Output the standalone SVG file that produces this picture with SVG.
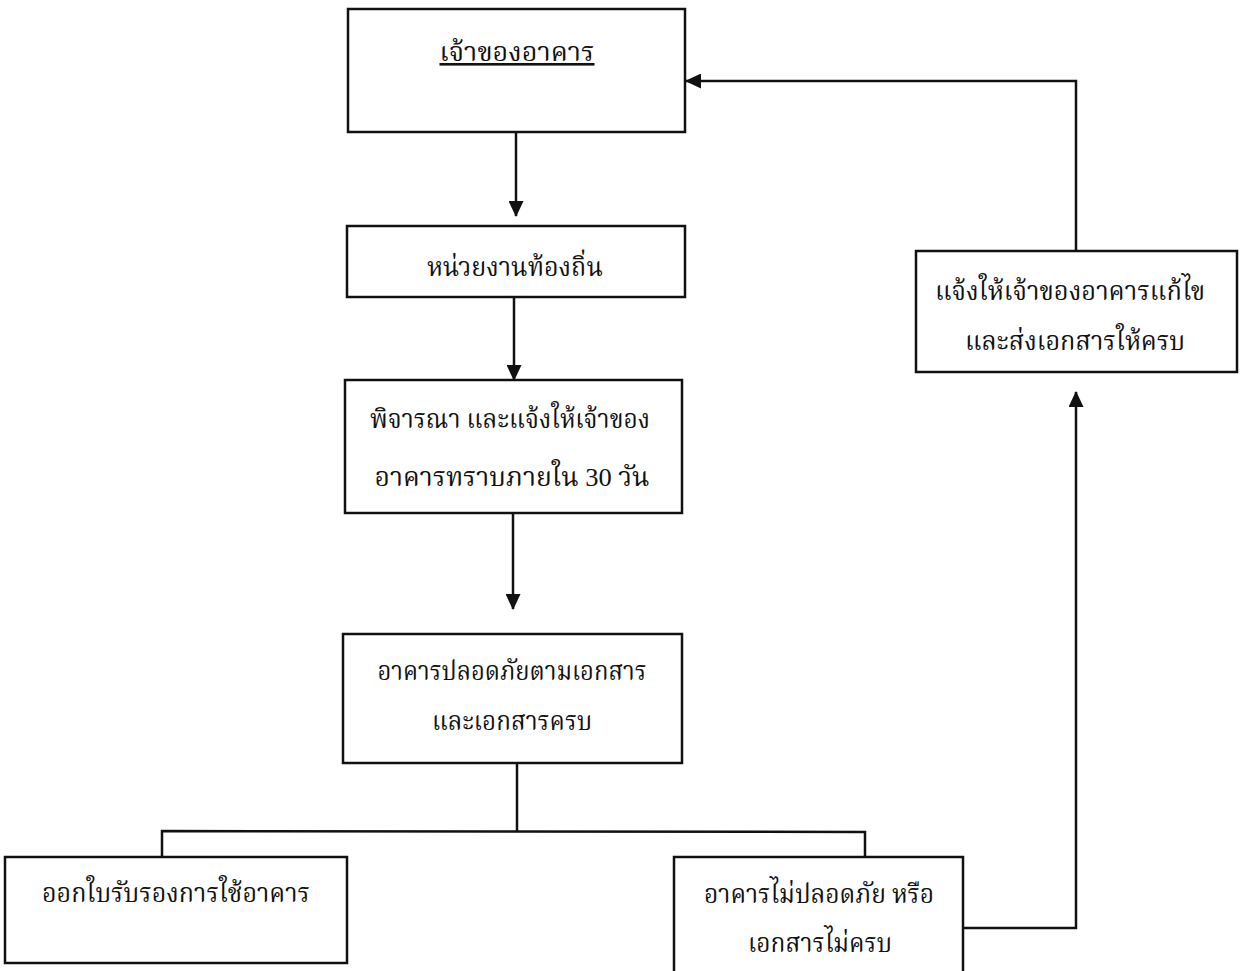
<svg xmlns="http://www.w3.org/2000/svg" width="1246" height="971" viewBox="0 0 1246 971">
<defs>
<style>
.box{fill:#fff;stroke:#111;stroke-width:2.5}
.t{font-family:"Liberation Serif","Noto Serif Thai","DejaVu Serif",serif;font-size:26px;fill:#111;text-anchor:middle}
.c{fill:none;stroke:#111;stroke-width:2.5}
</style>
<marker id="ah" viewBox="0 0 16 15" refX="15" refY="7.5" markerWidth="16" markerHeight="15" markerUnits="userSpaceOnUse" orient="auto">
<path d="M0,0 L16,7.5 L0,15 z" fill="#111"/>
</marker>
</defs>
<rect width="1246" height="971" fill="#fff"/>
<g id="connectors">
<line class="c" x1="516" y1="132" x2="516" y2="216" marker-end="url(#ah)"/>
<line class="c" x1="514" y1="297" x2="514" y2="380" marker-end="url(#ah)"/>
<line class="c" x1="513" y1="513" x2="513" y2="609" marker-end="url(#ah)"/>
<line class="c" x1="517" y1="763" x2="517" y2="832"/>
<polyline class="c" points="162,857 162,831 865,832 865,857"/>
<polyline class="c" points="963,928 1076,928 1076,392" marker-end="url(#ah)"/>
<polyline class="c" points="1076,251 1076,81 686,81" marker-end="url(#ah)"/>
</g>
<g id="n1"><rect class="box" x="348" y="9" width="337" height="123"/><text class="t" x="517" y="61" textLength="155" lengthAdjust="spacingAndGlyphs" text-decoration="underline">เจ้าของอาคาร</text></g>
<g id="n2"><rect class="box" x="347" y="226" width="338" height="71"/><text class="t" x="515" y="276" textLength="176" lengthAdjust="spacingAndGlyphs">หน่วยงานท้องถิ่น</text></g>
<g id="n3"><rect class="box" x="345" y="380" width="337" height="133"/><text class="t" x="510" y="428" textLength="280" lengthAdjust="spacingAndGlyphs">พิจารณา และแจ้งให้เจ้าของ</text><text class="t" x="512" y="486" textLength="275" lengthAdjust="spacingAndGlyphs">อาคารทราบภายใน 30 วัน</text></g>
<g id="n4"><rect class="box" x="343" y="634" width="339" height="129"/><text class="t" x="512" y="680" textLength="269" lengthAdjust="spacingAndGlyphs">อาคารปลอดภัยตามเอกสาร</text><text class="t" x="512" y="730" textLength="160" lengthAdjust="spacingAndGlyphs">และเอกสารครบ</text></g>
<g id="n5"><rect class="box" x="5" y="857" width="342" height="106"/><text class="t" x="176" y="902" textLength="268" lengthAdjust="spacingAndGlyphs">ออกใบรับรองการใช้อาคาร</text></g>
<g id="n6"><rect class="box" x="674" y="857" width="289" height="124"/><text class="t" x="819" y="903" textLength="230" lengthAdjust="spacingAndGlyphs">อาคารไม่ปลอดภัย หรือ</text><text class="t" x="820" y="952" textLength="144" lengthAdjust="spacingAndGlyphs">เอกสารไม่ครบ</text></g>
<g id="n7"><rect class="box" x="916" y="251" width="321" height="121"/><text class="t" x="1070" y="300" textLength="270" lengthAdjust="spacingAndGlyphs">แจ้งให้เจ้าของอาคารแก้ไข</text><text class="t" x="1075" y="350" textLength="220" lengthAdjust="spacingAndGlyphs">และส่งเอกสารให้ครบ</text></g>
</svg>
